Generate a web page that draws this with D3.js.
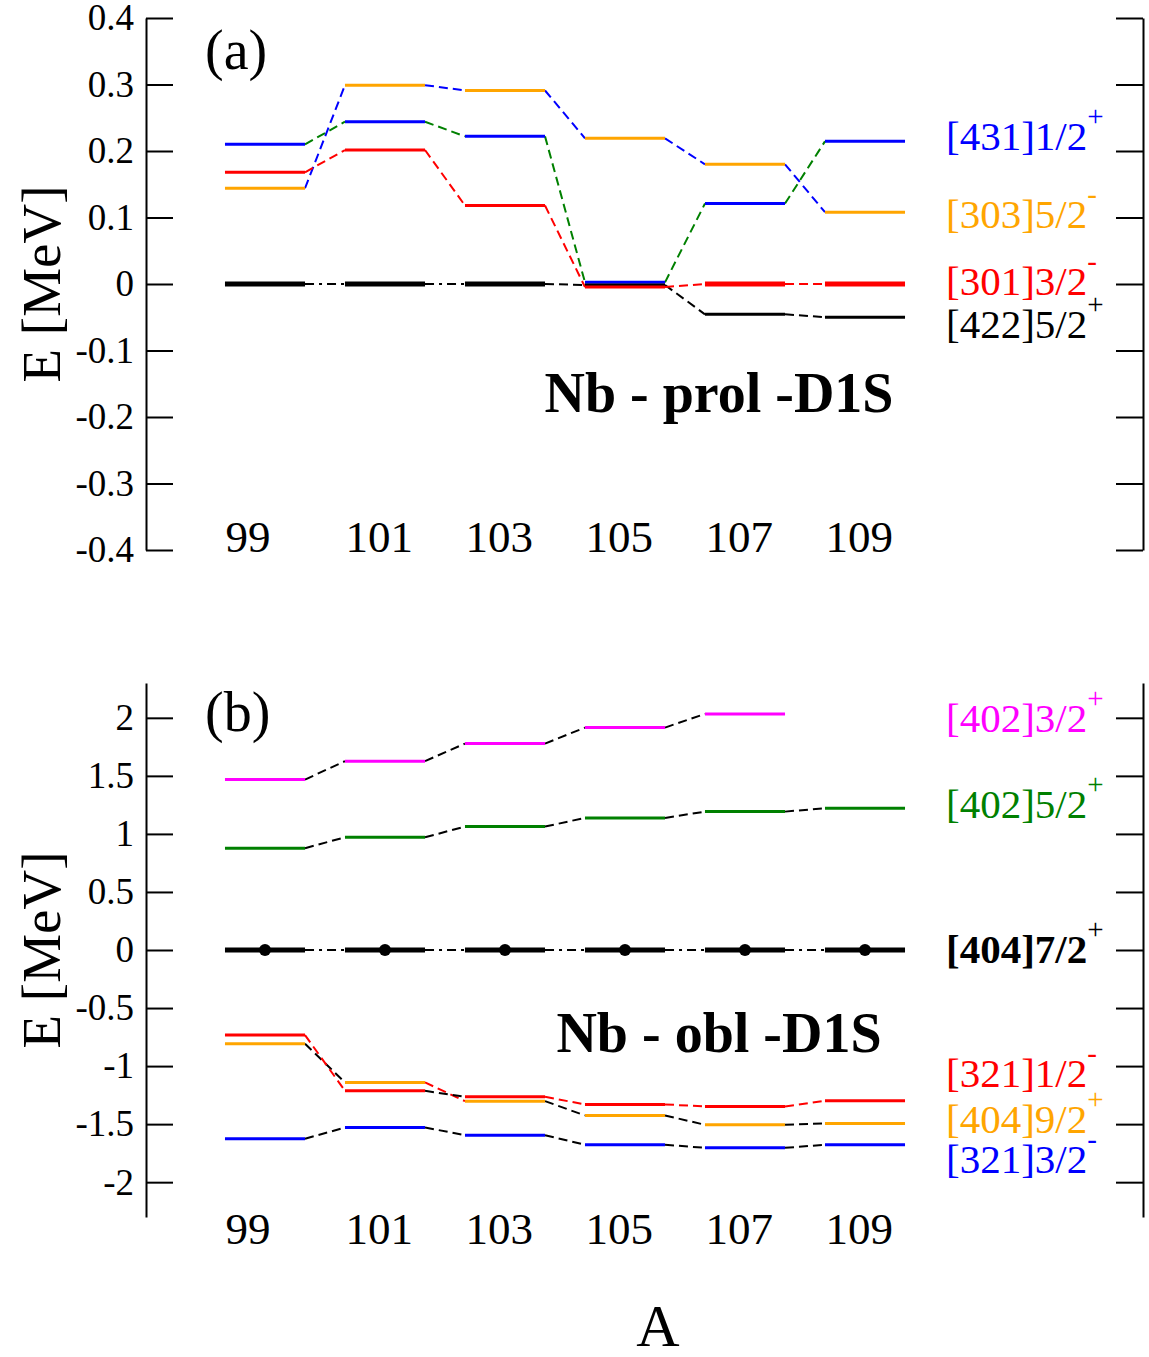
<!DOCTYPE html>
<html><head><meta charset="utf-8">
<script src="https://cdn.jsdelivr.net/npm/d3@7"></script>
<style>body{margin:0;background:#fff} svg{display:block}</style>
</head><body>
<script>
// ---------- data ----------
const massNumbers = [99, 101, 103, 105, 107, 109];
const xTickLabels = ["99", "101", "103", "105", "107", "109"];

const topTickValues = [0.4, 0.3, 0.2, 0.1, 0, -0.1, -0.2, -0.3, -0.4];
const topTickLabels = ["0.4", "0.3", "0.2", "0.1", "0", "-0.1", "-0.2", "-0.3", "-0.4"];
const botTickValues = [2, 1.5, 1, 0.5, 0, -0.5, -1, -1.5, -2];
const botTickLabels = ["2", "1.5", "1", "0.5", "0", "-0.5", "-1", "-1.5", "-2"];

// panel (a) Nb prolate, level energies (MeV) per mass number
const topOrange = [0.144, 0.299, 0.291, 0.219, 0.180, 0.108];
const topBlue   = [0.210, 0.244, 0.222, 0.0025, 0.121, 0.2145];
const topBlack  = [0, 0, 0, -0.0015, -0.0456, -0.050];
const topRed    = [0.168, 0.2015, 0.118, -0.0045, 0, 0];
const topBlackThick = [true, true, true, false, false, false];
const topRedThick   = [false, false, false, false, true, true];
const topLabels = [
  {main: "[431]1/2", sup: "+", color: "#0000ff"},
  {main: "[303]5/2", sup: "-", color: "#ffa500"},
  {main: "[301]3/2", sup: "-", color: "#ff0000"},
  {main: "[422]5/2", sup: "+", color: "#000000"}
];

// panel (b) Nb oblate
const botMagenta = [1.468, 1.627, 1.778, 1.916, 2.034, null];
const botGreen   = [0.877, 0.971, 1.063, 1.138, 1.192, 1.221];
const botZero    = [0, 0, 0, 0, 0, 0];
const botRed     = [-0.733, -1.213, -1.265, -1.330, -1.348, -1.299];
const botOrange  = [-0.808, -1.141, -1.302, -1.425, -1.506, -1.494];
const botBlue    = [-1.626, -1.529, -1.595, -1.678, -1.704, -1.678];
const botRedConn    = ["#ff0000", "#000000", "#ff0000", "#ff0000", "#ff0000"];
const botOrangeConn = ["#000000", "#ff0000", "#000000", "#000000", "#000000"];
const botLabels = [
  {main: "[402]3/2", sup: "+", color: "#ff00ff", bold: false},
  {main: "[402]5/2", sup: "+", color: "#008000", bold: false},
  {main: "[404]7/2", sup: "+", color: "#000000", bold: true},
  {main: "[321]1/2", sup: "-", color: "#ff0000", bold: false},
  {main: "[404]9/2", sup: "+", color: "#ffa500", bold: false},
  {main: "[321]3/2", sup: "-", color: "#0000ff", bold: false}
];

// ---------- layout ----------
const W = 1149, H = 1357;
const FONT = "'Liberation Serif','Times New Roman',Times,serif";
const DASH = "9,5", DASHDOT = "9,5,3,5";
const HALF = 0.667; // half level width in A units
const fill = (n, v) => Array(n).fill(v);

const svg = d3.select("body").append("svg").attr("width", W).attr("height", H)
  .style("font-family", FONT);

const x = d3.scaleLinear().domain([99, 109]).range([265, 865]);

function panel(cfg) {
  const y = d3.scaleLinear().domain(cfg.domain).range(cfg.range);
  const g = svg.append("g");

  // axes
  const left = d3.axisLeft(y).tickValues(cfg.tickValues)
    .tickFormat((d, i) => cfg.tickLabels[i]).tickSize(-27).tickSizeOuter(0).tickPadding(12);
  const ga = g.append("g").attr("transform", "translate(146,0)").call(left);
  ga.attr("font-family", FONT);
  ga.selectAll("text").style("font-size", "37px").style("font-family", FONT).attr("fill", "#000");
  const right = d3.axisRight(y).tickValues(cfg.tickValues).tickFormat("").tickSize(-27).tickSizeOuter(0);
  const gr = g.append("g").attr("transform", "translate(1143,0)").call(right);
  [ga, gr].forEach(a => {
    a.select(".domain").attr("stroke", "#000").attr("stroke-width", 2);
    a.selectAll(".tick line").attr("stroke", "#000").attr("stroke-width", 2);
  });

  // x tick labels
  g.selectAll(".xl").data(massNumbers).enter().append("text")
    .attr("x", d => x(d - 0.66)).attr("y", cfg.xLabelY)
    .attr("font-size", 45).text((d, i) => xTickLabels[i]);

  // connectors
  cfg.series.forEach(s => {
    for (let i = 0; i < massNumbers.length - 1; i++) {
      const a = s.values[i], b = s.values[i + 1];
      if (a == null || b == null) continue;
      g.append("line")
        .attr("x1", x(massNumbers[i] + HALF)).attr("y1", y(a))
        .attr("x2", x(massNumbers[i + 1] - HALF)).attr("y2", y(b))
        .attr("stroke", s.connColors[i]).attr("stroke-width", 2)
        .attr("stroke-dasharray", s.connDash[i]);
    }
  });
  // levels
  cfg.series.forEach(s => {
    g.selectAll(null).data(massNumbers.map((A, i) => ({A, v: s.values[i], t: s.thick[i]})).filter(d => d.v != null))
      .enter().append("line")
      .attr("x1", d => x(d.A - HALF)).attr("x2", d => x(d.A + HALF))
      .attr("y1", d => y(d.v)).attr("y2", d => y(d.v))
      .attr("stroke", s.color).attr("stroke-width", d => d.t ? 5 : 3);
    if (s.dots) {
      g.selectAll(null).data(massNumbers.map((A, i) => ({A, v: s.values[i]}))).enter().append("circle")
        .attr("cx", d => x(d.A)).attr("cy", d => y(d.v)).attr("r", 6).attr("fill", s.color);
    }
  });

  // labels on right
  cfg.labels.forEach((L, i) => {
    const t = g.append("text").attr("x", 946).attr("y", cfg.labelY[i])
      .attr("fill", L.color).attr("font-size", 41).attr("font-weight", L.bold ? "bold" : "normal");
    t.append("tspan").text(L.main);
    t.append("tspan").attr("dx", 0).attr("dy", -24).attr("font-size", 29).attr("font-weight", "normal").text(L.sup);
  });

  // panel letter, y-title, inner title
  g.append("text").attr("x", 205).attr("y", cfg.letterY).attr("font-size", 56).text(cfg.letter);
  g.append("text").attr("transform", `translate(60,${y(0)}) rotate(-90)`)
    .attr("text-anchor", "middle").attr("font-size", 55).text("E [MeV]");
  g.append("text").attr("x", 719).attr("y", cfg.titleY).attr("text-anchor", "middle")
    .attr("font-size", 56).attr("font-weight", "bold").text(cfg.title);
}

panel({
  domain: [-0.4, 0.4], range: [550, 18],
  tickValues: topTickValues, tickLabels: topTickLabels,
  xLabelY: 552, letter: "(a)", letterY: 69, title: "Nb - prol -D1S", titleY: 412,
  labels: topLabels, labelY: [150, 228, 295, 338],
  series: [
    {values: topOrange, color: "#ffa500", thick: fill(6, false), connColors: fill(5, "#0000ff"), connDash: fill(5, DASH)},
    {values: topBlue, color: "#0000ff", thick: fill(6, false), connColors: fill(5, "#008000"), connDash: fill(5, DASH)},
    {values: topBlack, color: "#000000", thick: topBlackThick, connColors: fill(5, "#000000"), connDash: [DASHDOT, DASHDOT, DASH, DASH, DASH]},
    {values: topRed, color: "#ff0000", thick: topRedThick, connColors: fill(5, "#ff0000"), connDash: fill(5, DASH)}
  ]
});

panel({
  domain: [-2.3, 2.3], range: [1217, 683],
  tickValues: botTickValues, tickLabels: botTickLabels,
  xLabelY: 1244, letter: "(b)", letterY: 731, title: "Nb - obl -D1S", titleY: 1052,
  labels: botLabels, labelY: [732, 818, 963, 1087, 1133, 1173],
  series: [
    {values: botMagenta, color: "#ff00ff", thick: fill(6, false), connColors: fill(5, "#000000"), connDash: fill(5, DASH)},
    {values: botGreen, color: "#008000", thick: fill(6, false), connColors: fill(5, "#000000"), connDash: fill(5, DASH)},
    {values: botZero, color: "#000000", thick: fill(6, true), connColors: fill(5, "#000000"), connDash: fill(5, DASHDOT), dots: true},
    {values: botBlue, color: "#0000ff", thick: fill(6, false), connColors: fill(5, "#000000"), connDash: fill(5, DASH)},
    {values: botOrange, color: "#ffa500", thick: fill(6, false), connColors: botOrangeConn, connDash: fill(5, DASH)},
    {values: botRed, color: "#ff0000", thick: fill(6, false), connColors: botRedConn, connDash: fill(5, DASH)}
  ]
});

svg.append("text").attr("x", 658).attr("y", 1346).attr("text-anchor", "middle")
  .attr("font-size", 60).text("A");
</script>
</body></html>
